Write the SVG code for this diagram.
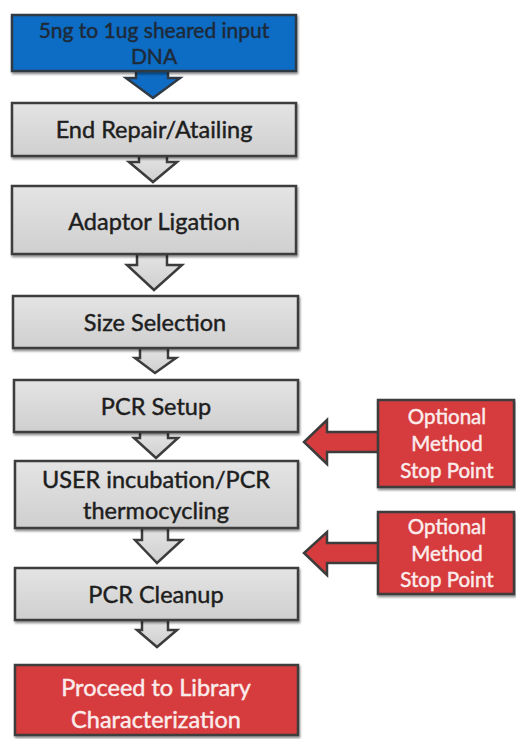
<svg xmlns="http://www.w3.org/2000/svg" width="516" height="739" viewBox="0 0 516 739">
<defs>
<linearGradient id="g" x1="0" y1="0" x2="0" y2="1"><stop offset="0" stop-color="#e4e4e4"/><stop offset="1" stop-color="#cfcfcf"/></linearGradient>
<filter id="sh" x="-10%" y="-10%" width="130%" height="130%"><feDropShadow dx="1" dy="2" stdDeviation="1.2" flood-color="#000" flood-opacity="0.45"/></filter>
</defs>
<style>
.box{fill:url(#g);stroke:#3c3c3c;stroke-width:2.5;filter:url(#sh)}
.blue{fill:#0f6cc4;stroke:#2f3a45;stroke-width:2.5;filter:url(#sh)}
.red{fill:#d63b3d;stroke:#3c3c3c;stroke-width:2.5;filter:url(#sh)}
.arr{fill:url(#g);stroke:#3c3c3c;stroke-width:2.5;stroke-linejoin:miter}
.barr{fill:#0f6cc4;stroke:#2f3a45;stroke-width:2.5}
.rarr{fill:#d63b3d;stroke:#3c3c3c;stroke-width:2.5}
text{font-family:Lato,"Open Sans","Liberation Sans",sans-serif;text-anchor:middle;stroke-width:0.45}
.t{font-size:23.5px;fill:#1e1e1e;stroke:#1e1e1e}
.b{font-size:21px;fill:#1e2a38;stroke:#1e2a38}
.w{font-size:23.5px;fill:#fbecec;stroke:#fbecec}
.c{font-size:20.5px;fill:#fbecec;stroke:#fbecec}
</style>
<g id="connectors">
<polygon class="barr" points="136,70 168,70 168,78 180,78 153,98 126,78 136,78"/>
<polygon class="arr" points="139,156 167,156 167,162 177,162 153,182 129,162 139,162"/>
<polygon class="arr" points="137,254 167,254 167,265 182,265 154,290 127,265 137,265"/>
<polygon class="arr" points="140,348 168,348 168,358 176,358 155,373 135,358 140,358"/>
<polygon class="arr" points="140,432 168,432 168,438 178,438 156,458 134,438 140,438"/>
<polygon class="arr" points="142,528 168,528 168,540 182,540 157,563 135,540 142,540"/>
<polygon class="arr" points="142,620 168,620 168,630 177,630 157,647 137,630 142,630"/>
</g>
<g id="n1"><rect class="blue" x="12" y="15" width="284" height="56"/><text class="b" x="154" y="38">5ng to 1ug sheared input</text><text class="b" x="154" y="64">DNA</text></g>
<g id="n2"><rect class="box" x="12" y="103" width="284" height="53"/><text class="t" x="154" y="138">End Repair/Atailing</text></g>
<g id="n3"><rect class="box" x="12" y="186" width="284" height="68"/><text class="t" x="154" y="230">Adaptor Ligation</text></g>
<g id="n4"><rect class="box" x="13" y="296" width="285" height="52"/><text class="t" x="155" y="331">Size Selection</text></g>
<g id="n5"><rect class="box" x="14" y="380" width="284" height="52"/><text class="t" x="156" y="415">PCR Setup</text></g>
<g id="n6"><rect class="box" x="15" y="461" width="283" height="67"/><text class="t" x="156" y="488">USER incubation/PCR</text><text class="t" x="156" y="519">thermocycling</text></g>
<g id="n7"><rect class="box" x="15" y="568" width="283" height="52"/><text class="t" x="156" y="603">PCR Cleanup</text></g>
<g id="n8"><rect class="red" x="15" y="665" width="283" height="70"/><text class="w" x="156" y="696">Proceed to Library</text><text class="w" x="156" y="728">Characterization</text></g>
<g id="stop1">
<polygon class="rarr" points="380,432 327,432 327,420 304,442 327,464 327,452 380,452"/>
<rect class="red" x="378" y="400" width="136" height="87"/>
<text class="c" x="447" y="424">Optional</text><text class="c" x="447" y="451">Method</text><text class="c" x="447" y="478">Stop Point</text>
</g>
<g id="stop2">
<polygon class="rarr" points="380,543 327,543 327,532 304,553 327,575 327,563 380,563"/>
<rect class="red" x="378" y="512" width="136" height="82"/>
<text class="c" x="447" y="534">Optional</text><text class="c" x="447" y="561">Method</text><text class="c" x="447" y="587">Stop Point</text>
</g>
</svg>
